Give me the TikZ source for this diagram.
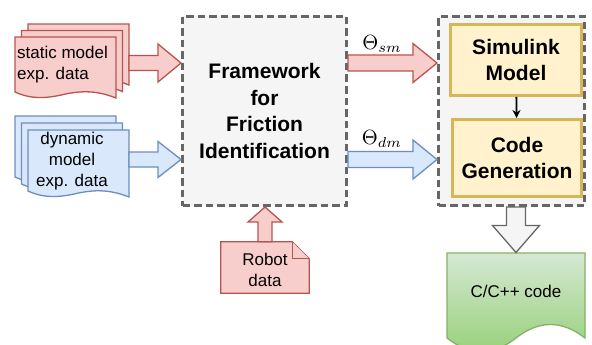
\documentclass[tikz,border=0pt]{standalone}
\usepackage{fontspec}
\usepackage{graphicx}
\setmainfont{Liberation Sans}
\usetikzlibrary{arrows.meta,calc}
\definecolor{redfill}{HTML}{F8CECC}
\definecolor{redline}{HTML}{B85450}
\definecolor{bluefill}{HTML}{DAE8FC}
\definecolor{blueline}{HTML}{6C8EBF}
\definecolor{grayfill}{HTML}{F5F5F5}
\definecolor{grayline}{HTML}{666666}
\definecolor{yelfill}{HTML}{FFF2CC}
\definecolor{yelline}{HTML}{D6B656}
\definecolor{greentop}{HTML}{D5E8D4}
\definecolor{greenbot}{HTML}{97D077}
\definecolor{greenline}{HTML}{82B366}
\tikzset{
  dashbox/.style={draw=grayline, fill=grayfill, line width=3pt, dash pattern=on 7.5pt off 4pt, inner sep=0pt},
  yelbox/.style={draw=yelline, fill=yelfill, line width=3pt, inner sep=0pt},
  bigbold/.style={font=\fontsize{21}{26.5}\selectfont\bfseries, align=center},
  normtxt/.style={font=\fontsize{17}{21}\selectfont, inner sep=0pt},
  reddoc/.style={draw=redline, fill=redfill, line width=1.3pt},
  bluedoc/.style={draw=blueline, fill=bluefill, line width=1.3pt},
  greendoc/.style={draw=greenline, line width=1.3pt, top color=greentop, bottom color=greenbot},
  redarr/.style={draw=redline, fill=redfill, line width=1.3pt},
  bluearr/.style={draw=blueline, fill=bluefill, line width=1.3pt},
  grayarr/.style={draw=grayline, fill=grayfill, line width=1.3pt},
  thetalbl/.style={inner sep=0pt}
}
% multi-document page: style, x, y, w, h
\newcommand\mdoc[5]{%
  \draw[#1] (#2,#3) -- ({#2+#4},#3) -- ({#2+#4},{#3+#5})
    .. controls ({#2+0.8*#4},{#3+#5-8}) and ({#2+0.65*#4},{#3+#5-7}) .. ({#2+0.5*#4},{#3+#5-4})
    .. controls ({#2+0.3*#4},{#3+#5+1}) and ({#2+0.15*#4},{#3+#5+1}) .. (#2,{#3+#5-6}) -- cycle;}
% block arrow: style, from, to, shaft half width, head half width, head length
\newcommand\barrow[6]{%
  \path ($(#3)!#6!(#2)$) coordinate (hb);
  \draw[#1] ($(#2)!#4!90:(#3)$) -- ($(hb)!#4!90:(#3)$) -- ($(hb)!#5!90:(#3)$) -- (#3)
    -- ($(hb)!#5!-90:(#3)$) -- ($(hb)!#4!-90:(#3)$) -- ($(#2)!#4!-90:(#3)$) -- cycle;}
\begin{document}
\begin{tikzpicture}[x=1pt,y=-1pt]
\useasboundingbox (0,0) rectangle (592,345);
\fill[white] (0,0) rectangle (592,345);

% main boxes
\node[dashbox, bigbold, minimum width=164pt, minimum height=189pt] (fw) at (264.5,111) {Framework\\for\\Friction\\Identification};
\node[dashbox, minimum width=146pt, minimum height=189pt] (rb) at (511.5,111) {};
\node[yelbox, bigbold, minimum width=131pt, minimum height=71pt] (sim) at (516,60) {Simulink\\Model};
\node[yelbox, bigbold, minimum width=129pt, minimum height=77pt] (cg) at (517,158) {Code\\Generation};
\draw[-{Stealth[length=8pt,width=8pt]}, line width=1.8pt] (sim) -- (cg);

% static model documents
\mdoc{reddoc}{28}{24}{101}{61}
\mdoc{reddoc}{21.5}{30.5}{101}{61}
\mdoc{reddoc}{15}{37}{101}{61}
\node[normtxt, align=left, anchor=west] (stat) at (17,65) {static model\\exp. data};

% dynamic model documents
\mdoc{bluedoc}{15}{116}{101}{67}
\mdoc{bluedoc}{21.5}{123}{101}{67}
\mdoc{bluedoc}{28}{130}{101}{67}
\node[normtxt, align=center] (dyn) at (72,161) {dynamic\\model\\exp. data};

% robot data note
\node[normtxt, align=center, minimum width=88pt, minimum height=51pt] (robot) at (265,267.5) {};
\draw[reddoc] (robot.north west) -- ($(robot.north east)+(-17,0)$) -- ($(robot.north east)+(0,17)$) -- (robot.south east) -- (robot.south west) -- cycle;
\draw[reddoc] ($(robot.north east)+(-17,0)$) -- ($(robot.north east)+(-17,17)$) -- ($(robot.north east)+(0,17)$);
\node[normtxt, align=center] (robottxt) at (265,270) {Robot\\data};

% C code document
\draw[greendoc] (447,253) -- (585,253) -- (585,338)
  .. controls (562,320) and (539,320) .. (516,338)
  .. controls (493,356) and (470,356) .. (447,338) -- cycle;
\node[normtxt] (ccode) at (516,291) {C/C++ code};

% block arrows
\coordinate (r1s) at (129,63);
\coordinate (r1e) at (fw.west |- r1s);
\barrow{redarr}{r1s}{r1e}{7.5pt}{19pt}{23pt}
\coordinate (b1s) at (129,159.5);
\coordinate (b1e) at (fw.west |- b1s);
\barrow{bluearr}{b1s}{b1e}{7.5pt}{18pt}{23pt}
\coordinate (r2s) at (fw.east |- r1s);
\coordinate (r2e) at (rb.west |- r1s);
\barrow{redarr}{r2s}{r2e}{8pt}{19.5pt}{24pt}
\coordinate (b2s) at (fw.east |- b1s);
\coordinate (b2e) at (rb.west |- b1s);
\barrow{bluearr}{b2s}{b2e}{8pt}{19.5pt}{24pt}
\coordinate (rus) at (robot.north);
\coordinate (rue) at (robot.north |- fw.south);
\barrow{redarr}{rus}{rue}{7pt}{17pt}{15pt}
\coordinate (gs) at (rb.south -| ccode);
\coordinate (ge) at (516,252.5);
\barrow{grayarr}{gs}{ge}{9.5pt}{23.5pt}{27pt}

% parameter labels
\node[thetalbl] (tsm) at (382,44) {\scalebox{2.05}{$\Theta_{sm}$}};
\node[thetalbl] (tdm) at (382,139) {\scalebox{2.05}{$\Theta_{dm}$}};
\end{tikzpicture}
\end{document}
